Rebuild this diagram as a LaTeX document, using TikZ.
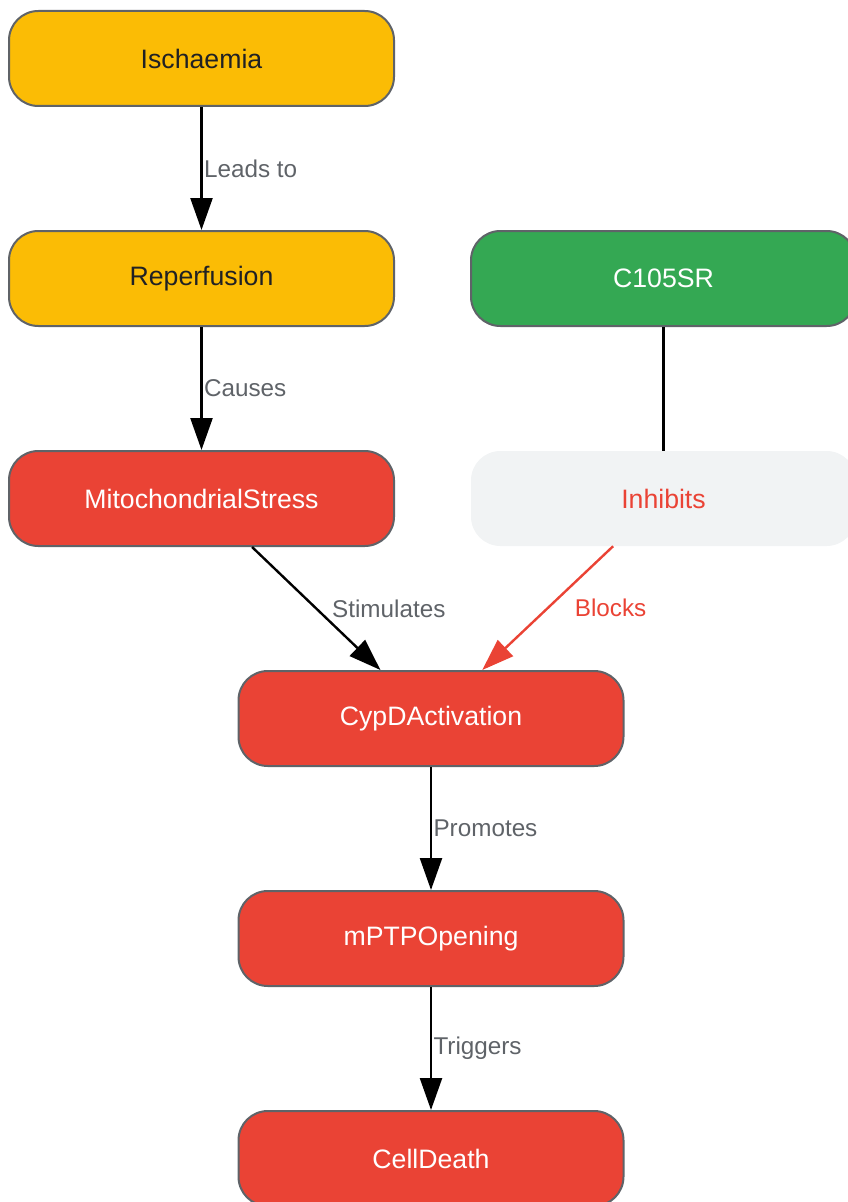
\documentclass[tikz,border=0pt]{standalone}
\usepackage{fontspec}
\setmainfont{Liberation Sans}
\usetikzlibrary{arrows.meta,positioning}
\definecolor{yel}{HTML}{FBBC05}
\definecolor{grn}{HTML}{34A853}
\definecolor{rd}{HTML}{EA4335}
\definecolor{lgr}{HTML}{F1F3F4}
\definecolor{bord}{HTML}{5F6368}
\definecolor{dark}{HTML}{202124}

\begin{document}
\begin{tikzpicture}[x=0.75pt, y=-0.75pt,
	box/.style={rectangle, rounded corners=22pt, minimum width=288.75pt, minimum height=71.25pt, inner sep=0pt, font=\fontsize{20}{23}\selectfont},
	yelw/.style={box, draw=bord, line width=1.5pt, fill=yel, text=dark},
	gren/.style={box, draw=bord, line width=1.5pt, fill=grn, text=white},
	redd/.style={box, draw=bord, line width=1.5pt, fill=rd, text=white},
	gray/.style={box, fill=lgr, text=rd},
	arr/.style={line width=1.8pt, -{Triangle[length=24pt,width=16.5pt]}},
	lbl/.style={inner sep=1pt, text=bord, font=\fontsize{18.2}{21}\selectfont}]
	\clip (0,0) rectangle (848,1202);
	\useasboundingbox (0,0) rectangle (848,1202);
	\node[yelw] (0) at (201.5, 58.5) {Ischaemia};
	\node[yelw] (1) at (201.5, 278.5) {Reperfusion};
	\node[gren] (2) at (663.5, 278.5) {C105SR};
	\node[redd] (3) at (201.5, 498.5) {MitochondrialStress};
	\node[gray] (4) at (663.5, 498.5) {Inhibits};
	\node[redd] (5) at (431, 718.5) {CypDActivation};
	\node[redd] (6) at (431, 938.5) {mPTPOpening};
	\node[redd] (7) at (431, 1158.5) {CellDeath};
	\draw[arr] (0) to node[lbl, anchor=west] {Leads to} (1);
	\draw[arr] (1) to node[lbl, anchor=west] {Causes} (3);
	\draw[line width=1.8pt] (2) to (4);
	\draw[arr] (3) to node[lbl, anchor=west, xshift=10pt] {Stimulates} (5);
	\draw[arr, draw=rd, fill=rd] (4) to node[lbl, text=rd, anchor=west, xshift=18.5pt] {Blocks} (5);
	\draw[arr] (5) to node[lbl, anchor=west] {Promotes} (6);
	\draw[arr] (6) to node[lbl, anchor=west] {Triggers} (7);
\end{tikzpicture}
\end{document}
